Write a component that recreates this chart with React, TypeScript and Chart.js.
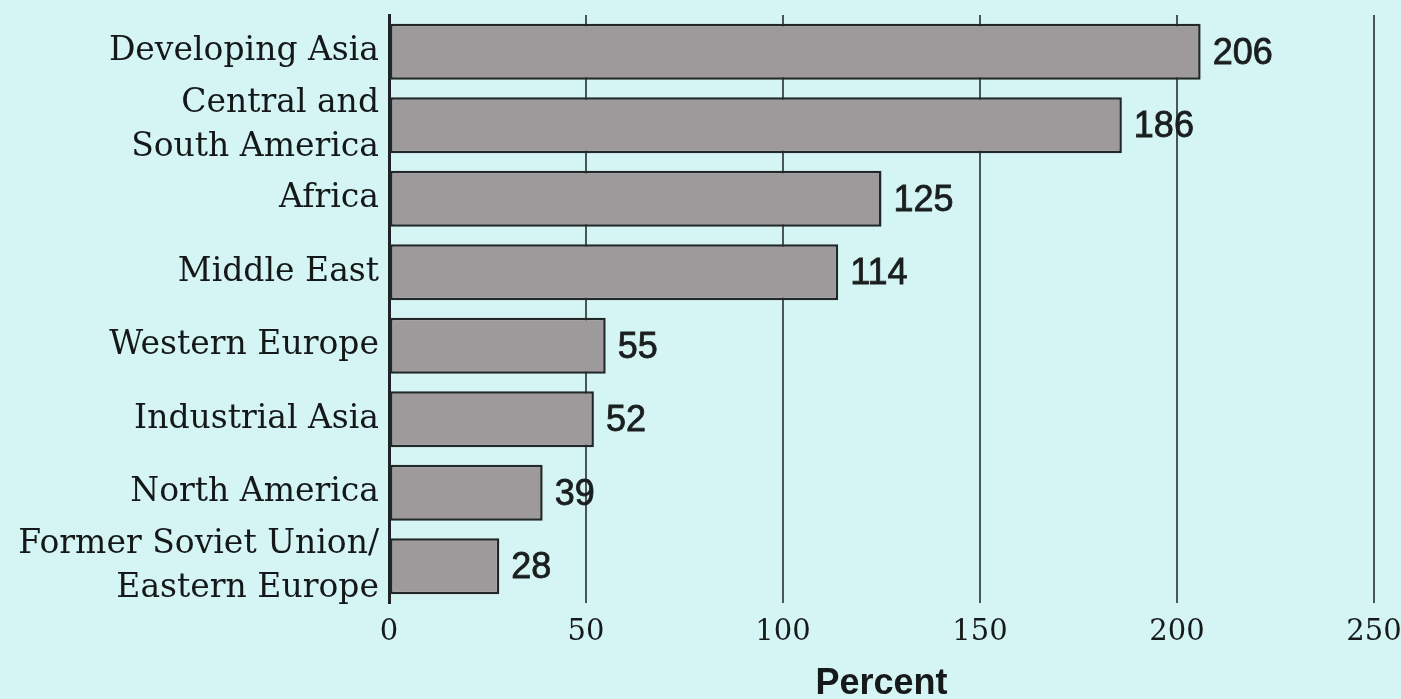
import React, { useEffect, useRef } from "react";
import { Chart, registerables } from "chart.js";

Chart.register(...registerables);

const categories: (string | string[])[] = [
  "Developing Asia",
  ["Central and", "South America"],
  "Africa",
  "Middle East",
  "Western Europe",
  "Industrial Asia",
  "North America",
  ["Former Soviet Union/", "Eastern Europe"],
];
const values: number[] = [206, 186, 125, 114, 55, 52, 39, 28];
const xTicks: number[] = [0, 50, 100, 150, 200, 250];
const axisTitle = "Percent";

const W = 1401;
const H = 699;

const valueLabels = {
  id: "valueLabels",
  afterDatasetsDraw(chart: any) {
    const ctx = chart.ctx;
    const meta = chart.getDatasetMeta(0);
    ctx.save();
    ctx.font = "36px 'Liberation Sans', Arial, sans-serif";
    ctx.fillStyle = "#1a1e1e";
    ctx.strokeStyle = "#1a1e1e";
    ctx.lineWidth = 0.8;
    ctx.textAlign = "left";
    ctx.textBaseline = "middle";
    meta.data.forEach((bar: any, i: number) => {
      const t = String(values[i]);
      ctx.fillText(t, bar.x + 12, bar.y + 2);
      ctx.strokeText(t, bar.x + 12, bar.y + 2);
    });
    ctx.restore();
  },
};

export default function App() {
  const ref = useRef<HTMLCanvasElement | null>(null);
  useEffect(() => {
    if (!ref.current) return;
    const chart = new Chart(ref.current, {
      type: "bar",
      data: {
        labels: categories,
        datasets: [
          {
            data: values,
            backgroundColor: "#9e9a9c",
            borderColor: "#232727",
            borderWidth: 2.5,
            borderSkipped: false,
            categoryPercentage: 1,
            barPercentage: 0.76,
          },
        ],
      },
      options: {
        indexAxis: "y",
        responsive: false,
        animation: false,
        layout: { padding: { top: 15, right: 27, left: 0, bottom: 0 } },
        plugins: {
          legend: { display: false },
          tooltip: { enabled: false },
        },
        scales: {
          x: {
            min: 0,
            max: 250,
            afterBuildTicks(scale: any) {
              scale.ticks = xTicks.map((v) => ({ value: v }));
            },
            afterFit(scale: any) {
              scale.height = 96;
              scale.paddingLeft = 0;
              scale.paddingRight = 0;
            },
            grid: {
              color: "#4a5656",
              lineWidth: 2,
              drawTicks: false,
            },
            border: { display: false },
            ticks: {
              padding: 12,
              color: "#161a1a",
              font: { family: "'DejaVu Serif', serif", size: 29 },
              maxRotation: 0,
            },
            title: {
              display: true,
              text: axisTitle,
              color: "#161919",
              font: {
                family: "'Liberation Sans', Arial, sans-serif",
                size: 36,
                weight: "bold",
                lineHeight: 0.8,
              },
              padding: { top: 0, bottom: 1 },
            },
          },
          y: {
            afterFit(scale: any) {
              scale.width = 389;
              scale.paddingTop = 0;
              scale.paddingBottom = 0;
            },
            grid: { display: false, drawTicks: false },
            border: { display: true, color: "#1f2323", width: 3 },
            ticks: {
              padding: 10,
              color: "#141818",
              font: { family: "'DejaVu Serif', serif", size: 33, lineHeight: 1.34 },
              autoSkip: false,
            },
          },
        },
      },
      plugins: [valueLabels],
    });
    return () => chart.destroy();
  }, []);

  return (
    <div
      style={{
        position: "fixed",
        left: 0,
        top: 0,
        width: W,
        height: H,
        background: "#d5f5f5",
      }}
    >
      <canvas ref={ref} width={W} height={H} style={{ display: "block" }} />
    </div>
  );
}
